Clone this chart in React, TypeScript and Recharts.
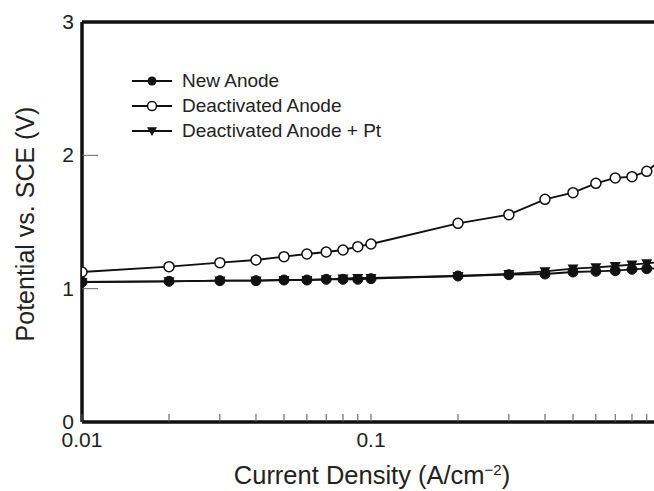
import React from 'react';
import {
  LineChart,
  Line,
  XAxis,
  YAxis,
  ReferenceLine,
  Label
} from 'recharts';

// current density (A/cm-2), shared by all three runs
const currentDensity = [0.01, 0.02, 0.03, 0.04, 0.05, 0.06, 0.07, 0.08, 0.09, 0.1, 0.2, 0.3, 0.4, 0.5, 0.6, 0.7, 0.8, 0.9, 1];

const newAnode = [1.05, 1.055, 1.06, 1.06, 1.065, 1.065, 1.07, 1.07, 1.07, 1.075, 1.095, 1.105, 1.11, 1.125, 1.13, 1.135, 1.145, 1.15, 1.155];
const deactivatedAnode = [1.125, 1.165, 1.195, 1.215, 1.24, 1.26, 1.275, 1.29, 1.315, 1.335, 1.49, 1.555, 1.67, 1.72, 1.79, 1.83, 1.84, 1.88, 1.96];
const deactivatedPt = [1.05, 1.055, 1.06, 1.06, 1.065, 1.065, 1.07, 1.075, 1.08, 1.08, 1.095, 1.11, 1.13, 1.15, 1.16, 1.17, 1.18, 1.19, 1.2];

const xTicks = [0.01, 0.02, 0.03, 0.04, 0.05, 0.06, 0.07, 0.08, 0.09, 0.1, 0.2, 0.3, 0.4, 0.5, 0.6, 0.7, 0.8, 0.9, 1];
const xLabels = [0.01, 0.1, 1];
const yTicks = [0, 1, 2, 3];

const legendItems = ['New Anode', 'Deactivated Anode', 'Deactivated Anode + Pt'];

const ink = '#111';
const font = '"Liberation Sans", Arial, Helvetica, sans-serif';

const toRows = (vals: number[]) => currentDensity.map((x, i) => ({ x, y: vals[i] }));

const XTick = ({ x, y, payload }: any) => {
  const v = payload.value;
  const major = xLabels.includes(v);
  return (
    <g>
      <line x1={x} x2={x} y1={y - 8} y2={y} stroke="#555" strokeWidth={1} />
      {major && (
        <text x={x} y={y + 25} textAnchor="middle" fontSize={21} fill="#222">
          {String(v)}
        </text>
      )}
    </g>
  );
};

const YTick = ({ x, y, payload }: any) => {
  const v = payload.value;
  return (
    <g>
      {v > 0 && v < 3 && <line x1={x} x2={x + 16} y1={y} y2={y} stroke="#666" strokeWidth={1} />}
      <text x={x - 8} y={y + 7} textAnchor="end" fontSize={21} fill="#222">
        {v}
      </text>
    </g>
  );
};

const Triangle = ({ cx, cy, size = 5.5, fill = ink }: any) => (
  <path d={`M${cx - size},${cy - size * 0.75} L${cx + size},${cy - size * 0.75} L${cx},${cy + size} Z`} fill={fill} />
);

const LegendBox = () => (
  <div style={{ position: 'absolute', left: 130, top: 68, fontFamily: font, fontSize: 19, color: '#222' }}>
    {legendItems.map((name, i) => (
      <div key={name} style={{ display: 'flex', alignItems: 'center', height: 25 }}>
        <svg width={52} height={14}>
          <line x1={2} x2={42} y1={7} y2={7} stroke={ink} strokeWidth={2} />
          {i === 0 && <circle cx={22} cy={7} r={4.5} fill={ink} />}
          {i === 1 && <circle cx={22} cy={7} r={4.5} fill="#fff" stroke={ink} strokeWidth={1.5} />}
          {i === 2 && <Triangle cx={22} cy={7} size={5} />}
        </svg>
        <span>{name}</span>
      </div>
    ))}
  </div>
);

export default function App() {
  return (
    <div style={{ position: 'fixed', left: 0, top: 0, width: 654, height: 491, overflow: 'hidden', background: '#fff', fontFamily: font }}>
      <LineChart width={700} height={491} margin={{ top: 22, right: 40, left: 0, bottom: 0 }}>
        <XAxis
          dataKey="x"
          type="number"
          scale="log"
          domain={[0.01, 1]}
          ticks={xTicks}
          allowDataOverflow
          height={69}
          tickSize={0}
          tickMargin={0}
          tick={<XTick />}
          axisLine={{ stroke: ink, strokeWidth: 3.5 }}
          interval={0}
        >
          <Label
            content={() => (
              <text x={372} y={484} textAnchor="middle" fontSize={25.5} fill="#222">
                Current Density (A/cm
                <tspan dy={-9} fontSize={15}>−2</tspan>
                <tspan dy={9}>)</tspan>
              </text>
            )}
          />
        </XAxis>
        <YAxis
          type="number"
          domain={[0, 3]}
          ticks={yTicks}
          width={82}
          tickSize={0}
          tickMargin={0}
          tick={<YTick />}
          axisLine={{ stroke: ink, strokeWidth: 3.5 }}
          interval={0}
        >
          <Label
            content={() => (
              <text
                x={25}
                y={224}
                transform="rotate(-90, 25, 224)"
                textAnchor="middle"
                dominantBaseline="central"
                fontSize={25}
                fill="#222"
              >
                Potential vs. SCE (V)
              </text>
            )}
          />
        </YAxis>
        <ReferenceLine y={3} stroke={ink} strokeWidth={3.5} />
        <ReferenceLine x={1} stroke={ink} strokeWidth={3.5} />
        <Line
          data={toRows(deactivatedPt)}
          dataKey="y"
          name="Deactivated Anode + Pt"
          stroke={ink}
          strokeWidth={1.8}
          dot={(p: any) => <Triangle key={`t${p.index}`} cx={p.cx} cy={p.cy} size={5.5} />}
          isAnimationActive={false}
        />
        <Line
          data={toRows(newAnode)}
          dataKey="y"
          name="New Anode"
          stroke={ink}
          strokeWidth={1.8}
          dot={{ r: 5, fill: ink, stroke: ink, strokeWidth: 1 }}
          isAnimationActive={false}
        />
        <Line
          data={toRows(deactivatedAnode)}
          dataKey="y"
          name="Deactivated Anode"
          stroke={ink}
          strokeWidth={1.8}
          dot={{ r: 5, fill: '#fff', stroke: ink, strokeWidth: 1.5 }}
          isAnimationActive={false}
        />
      </LineChart>
      <LegendBox />
    </div>
  );
}
